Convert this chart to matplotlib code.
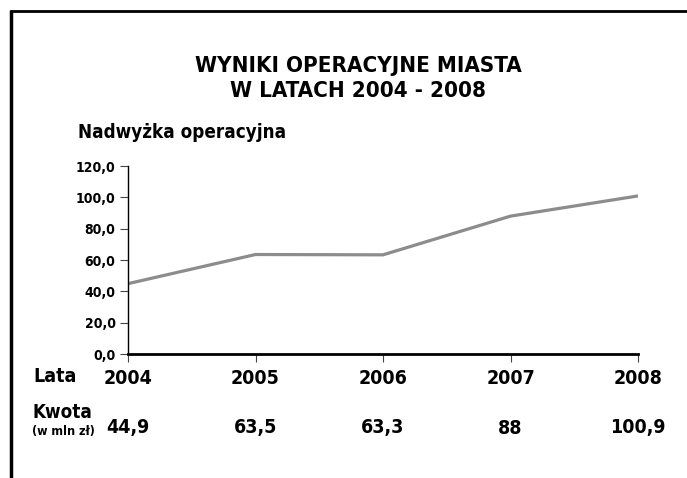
import matplotlib
matplotlib.use('Agg')
import matplotlib.pyplot as plt
from matplotlib.lines import Line2D
from matplotlib.ticker import FuncFormatter

years = [2004, 2005, 2006, 2007, 2008]
values = [44.9, 63.5, 63.3, 88, 100.9]
value_labels = ['44,9', '63,5', '63,3', '88', '100,9']
y_ticks = [0, 20, 40, 60, 80, 100, 120]

plt.rcParams['font.family'] = ['DejaVu Sans']
plt.rcParams['font.stretch'] = 'condensed'
plt.rcParams['font.weight'] = 'bold'

fig = plt.figure(figsize=(6.87, 4.78), dpi=100)
W, H = 687, 478


def fx(px):
    return px / W


def fy(py):
    return 1 - py / H


# frame: left and top border
fig.add_artist(Line2D([fx(11), fx(11)], [fy(10), 0], color='black', lw=2.5,
                      solid_capstyle='butt'))
fig.add_artist(Line2D([fx(10), 1], [fy(11), fy(11)], color='black', lw=2.0,
                      solid_capstyle='butt'))

fig.text(fx(358), fy(66), 'WYNIKI OPERACYJNE MIASTA', ha='center', va='center',
         fontsize=16, weight='bold')
fig.text(fx(358), fy(91), 'W LATACH 2004 - 2008', ha='center', va='center',
         fontsize=16, weight='bold')
fig.text(fx(78), fy(132), 'Nadwyżka operacyjna', ha='left', va='center',
         fontsize=13.5, weight='bold')

ax = fig.add_axes([fx(128), fy(354), fx(638) - fx(128), fy(166) - fy(354)])
ax.plot(years, values, color='#8c8c8c', lw=2.3, solid_capstyle='butt')
ax.set_xlim(2004, 2008)
ax.set_ylim(0, 120)
ax.set_xticks(years)
ax.set_xticklabels([str(y) for y in years], fontsize=14, weight='bold')
ax.set_yticks(y_ticks)
ax.yaxis.set_major_formatter(FuncFormatter(lambda v, p: f'{v:.1f}'.replace('.', ',')))
for lab in ax.get_yticklabels():
    lab.set_fontsize(10)
    lab.set_weight('bold')
ax.spines['top'].set_visible(False)
ax.spines['right'].set_visible(False)
ax.spines['left'].set_linewidth(1.0)
ax.spines['bottom'].set_linewidth(2.0)
ax.tick_params(axis='x', length=6, width=0.8, pad=5, color='#444444')
ax.tick_params(axis='y', length=6, width=0.8, pad=3, color='#444444')
ax.set_facecolor('white')

fig.text(fx(33), fy(377), 'Lata', ha='left', va='center', fontsize=14, weight='bold')
fig.text(fx(32), fy(412), 'Kwota', ha='left', va='center', fontsize=13.5, weight='bold')
fig.text(fx(32), fy(431), '(w mln zł)', ha='left', va='center', fontsize=9, weight='bold')

for yr, lab in zip(years, value_labels):
    xd = ax.transData.transform((yr, 0))[0]
    fig.text(xd / W, fy(428), lab, ha='center', va='center', fontsize=14, weight='bold')

fig.savefig('out.png', dpi=100)
